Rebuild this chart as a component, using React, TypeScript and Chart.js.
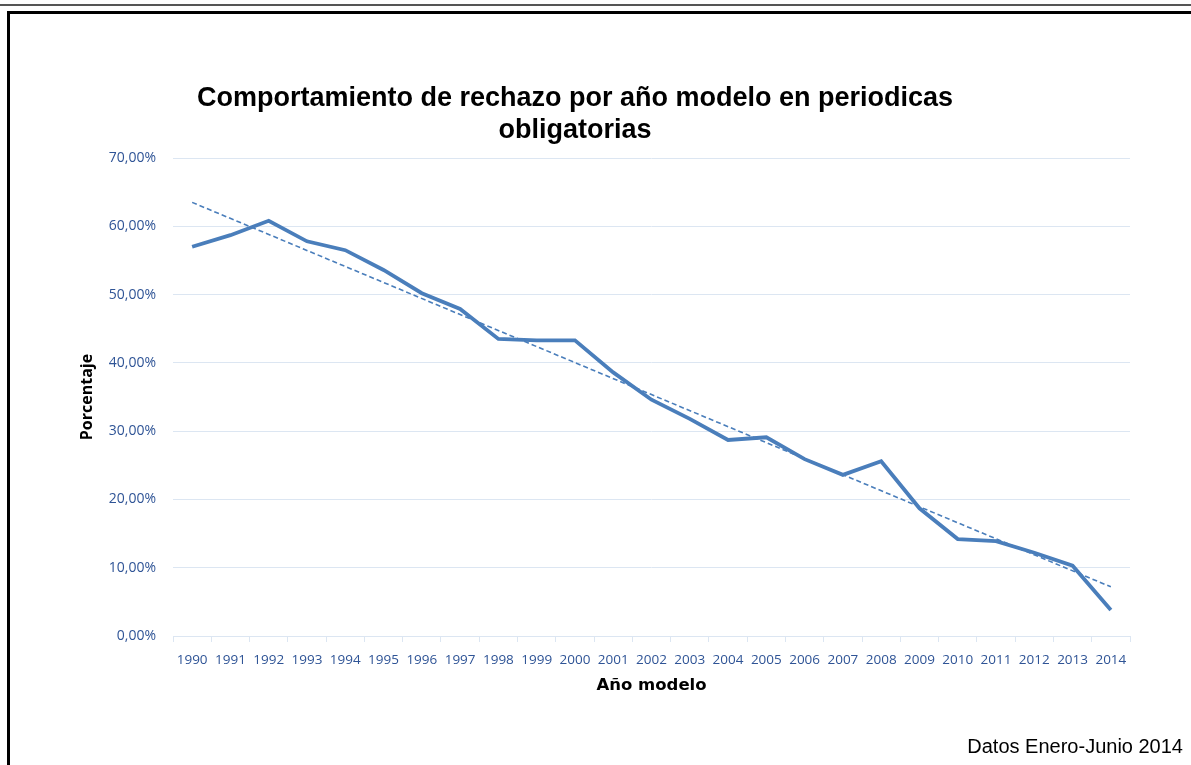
import React, { useEffect, useRef } from "react";
import { Chart, registerables } from "chart.js";

Chart.register(...registerables);

const years = ["1990","1991","1992","1993","1994","1995","1996","1997","1998","1999","2000","2001","2002","2003","2004","2005","2006","2007","2008","2009","2010","2011","2012","2013","2014"];
const rejection = [57.0, 58.7, 60.8, 57.8, 56.5, 53.6, 50.2, 47.9, 43.5, 43.3, 43.3, 38.6, 34.6, 31.8, 28.7, 29.1, 25.9, 23.6, 25.6, 18.7, 14.2, 13.9, 12.2, 10.3, 3.8];
const trend = [63.5, null, null, null, null, null, null, null, null, null, null, null, null, null, null, null, null, null, null, null, null, null, null, null, 7.2];
const yTicks = [0, 10, 20, 30, 40, 50, 60, 70];

const titleLines = ["Comportamiento de rechazo por año modelo en periodicas", "obligatorias"];
const yTitle = "Porcentaje";
const xTitle = "Año modelo";
const note = "Datos Enero-Junio 2014";

const LINE_BLUE = "#4A7EBB";
const TICK_BLUE = "#2F5496";
const GRID = "#DCE6F2";

export default function App() {
  const ref = useRef<HTMLCanvasElement | null>(null);

  useEffect(() => {
    document.body.style.margin = "0";
    const ctx = ref.current!.getContext("2d")!;
    const chart = new Chart(ctx, {
      type: "line",
      data: {
        labels: years,
        datasets: [
          {
            data: rejection,
            borderColor: LINE_BLUE,
            borderWidth: 3.8,
            pointRadius: 0,
            tension: 0,
            fill: false,
          },
          {
            data: trend,
            borderColor: LINE_BLUE,
            borderWidth: 1.6,
            borderDash: [5, 3],
            pointRadius: 0,
            spanGaps: true,
            fill: false,
          },
        ],
      },
      options: {
        animation: false,
        responsive: false,
        layout: { padding: { left: 70, right: 61, top: 158, bottom: 69 } },
        plugins: { legend: { display: false }, tooltip: { enabled: false }, title: { display: false } },
        scales: {
          x: {
            type: "category",
            offset: true,
            afterFit: (s: any) => { s.height = 60; },
            grid: { display: true, offset: true, drawOnChartArea: false, drawTicks: true, tickLength: 6, color: GRID, lineWidth: 1 },
            border: { display: true, color: GRID, width: 1 },
            ticks: { color: TICK_BLUE, font: { family: "'Open Sans', sans-serif", size: 13.5 }, padding: 10, maxRotation: 0, autoSkip: false },
            title: { display: true, text: xTitle, color: "#000", font: { family: "'DejaVu Sans', sans-serif", size: 16.5, weight: "bold" }, padding: { top: 0, bottom: 0 } },
          },
          y: {
            min: 0,
            max: 70,
            afterFit: (s: any) => { s.width = 103; },
            afterBuildTicks: (s: any) => { s.ticks = yTicks.map((v) => ({ value: v })); },
            grid: { color: GRID, lineWidth: 1, drawTicks: false },
            border: { display: false },
            ticks: {
              color: TICK_BLUE,
              font: { family: "'Open Sans', sans-serif", size: 14 },
              padding: 17,
              callback: (v: any) => Number(v).toFixed(2).replace(".", ",") + "%",
            },
            title: { display: true, text: yTitle, color: "#000", font: { family: "'Open Sans', sans-serif", size: 16, weight: "bold" }, padding: { top: 8, bottom: 0 } },
          },
        },
      },
    });
    return () => chart.destroy();
  }, []);

  return (
    <div style={{ position: "relative", width: 1191, height: 765, background: "#fff", overflow: "hidden" }}>
      <div style={{ position: "absolute", left: 0, top: 4, width: 1191, height: 2, background: "#555" }} />
      <div style={{ position: "absolute", left: 7, top: 11, width: 1184, height: 3, background: "#000" }} />
      <div style={{ position: "absolute", left: 7, top: 11, width: 3, height: 754, background: "#000" }} />
      <canvas ref={ref} width={1191} height={765} style={{ position: "absolute", left: 0, top: 0 }} />
      <div style={{ position: "absolute", left: 75, width: 1000, top: 81, textAlign: "center", fontFamily: "'Liberation Sans', Arial, sans-serif", fontWeight: "bold", fontSize: 27, lineHeight: "32px", color: "#000" }}>
        {titleLines.map((t, i) => (<div key={i}>{t}</div>))}
      </div>
      <div style={{ position: "absolute", right: 8, top: 733, fontFamily: "'Liberation Sans', Arial, sans-serif", fontSize: 20, lineHeight: "26px", color: "#000", whiteSpace: "nowrap" }}>
        {note}
      </div>
    </div>
  );
}
